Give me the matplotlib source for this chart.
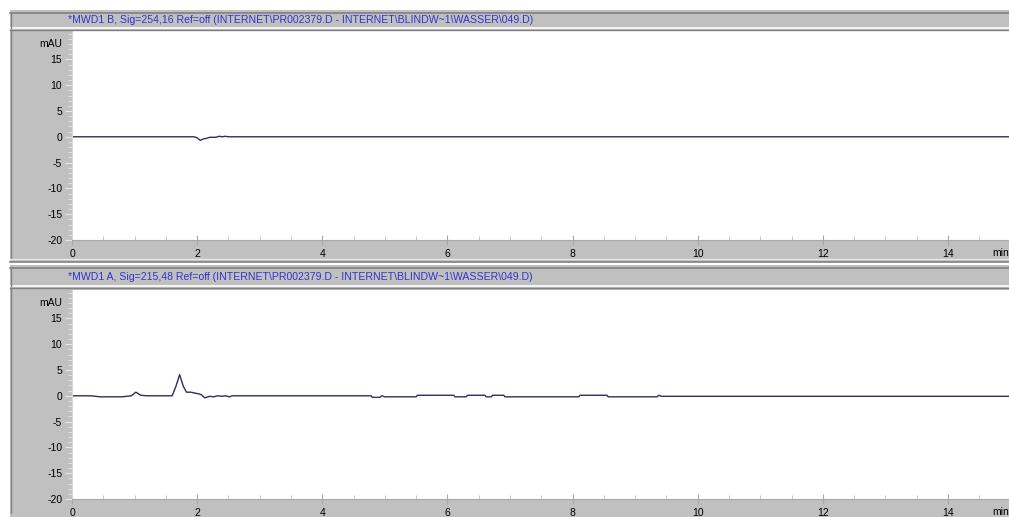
import numpy as np
import matplotlib.pyplot as plt
from matplotlib.patches import Rectangle
from matplotlib.lines import Line2D

plt.rcParams['font.family'] = ['Liberation Sans', 'DejaVu Sans']

# signal B (254 nm) - time in min, absorbance in mAU
t_b = [0.0, 1.95, 2.0, 2.05, 2.1, 2.15, 2.2, 2.3, 2.35, 2.4, 2.45, 2.5, 15.5]
y_b = [0.0, 0.0, -0.2, -0.7, -0.4, -0.3, -0.1, -0.1, 0.1, 0.0, 0.1, 0.0, 0.0]

# signal A (215 nm)
t_a = [0.0, 0.3, 0.45, 0.8, 0.95, 1.02, 1.1, 1.2, 1.6, 1.66, 1.72, 1.78, 1.83, 1.9, 1.97,
       2.02, 2.07, 2.12, 2.2, 2.27, 2.32, 2.4, 2.45, 2.52, 2.56, 4.78, 4.8, 4.92, 4.95,
       5.0, 5.5, 5.52, 6.1, 6.12, 6.3, 6.32, 6.6, 6.62, 6.7, 6.72, 6.9, 6.92, 8.1, 8.12,
       8.55, 8.57, 9.35, 9.38, 9.42, 15.5]
y_a = [0.0, 0.0, -0.2, -0.2, 0.0, 0.7, 0.1, 0.0, 0.0, 1.8, 4.1, 1.8, 0.7, 0.7, 0.5,
       0.4, 0.2, -0.4, -0.1, -0.2, 0.0, -0.1, 0.0, -0.2, 0.0, 0.0, -0.3, -0.3, 0.0,
       -0.2, -0.2, 0.1, 0.1, -0.2, -0.2, 0.1, 0.1, -0.2, -0.2, 0.1, 0.1, -0.2, -0.2, 0.1,
       0.1, -0.2, -0.2, 0.1, -0.1, -0.1]

titles = ["*MWD1 B, Sig=254,16 Ref=off (INTERNET\\PR002379.D - INTERNET\\BLINDW~1\\WASSER\\049.D)",
          "*MWD1 A, Sig=215,48 Ref=off (INTERNET\\PR002379.D - INTERNET\\BLINDW~1\\WASSER\\049.D)"]

W, H = 1009, 517
fig = plt.figure(figsize=(W / 100, H / 100), dpi=100)
fig.patch.set_facecolor('white')

gray = '#c0c0c0'
dark = '#808080'
blue = '#3333cc'
trace = '#2e2e60'

def fx(px):
    return px / W

def fy(py):
    return 1 - py / H

# panels: (panel top, header top, header bottom, plot top, plot bottom, panel bottom)
panels = [(10, 13, 28, 31, 240, 262), (265, 268, 286, 290, 499, 517)]
data = [(t_b, y_b), (t_a, y_a)]

for i, (ptop, htop, hbot, atop, abot, pbot) in enumerate(panels):
    fig.add_artist(Rectangle((fx(10), fy(pbot)), fx(W - 10), (pbot - ptop) / H,
                             transform=fig.transFigure, facecolor=gray, edgecolor='none', zorder=0))
    # header strip
    fig.add_artist(Line2D([fx(10), 1], [fy(htop), fy(htop)], color=dark, lw=1.2, transform=fig.transFigure))
    fig.add_artist(Line2D([fx(10), 1], [fy(hbot), fy(hbot)], color='white', lw=1.2, transform=fig.transFigure))
    fig.add_artist(Line2D([fx(11), fx(11)], [fy(htop), fy(hbot)], color=dark, lw=1, transform=fig.transFigure))
    fig.add_artist(Line2D([fx(10), 1], [fy(hbot + 2), fy(hbot + 2)], color=dark, lw=1, transform=fig.transFigure))
    fig.add_artist(Line2D([fx(11), fx(11)], [fy(hbot + 2), fy(pbot - 4)], color=dark, lw=1, transform=fig.transFigure))
    fig.text(fx(68), fy((htop + hbot) / 2), titles[i], color=blue, fontsize=7.6,
             va='center', ha='left')
    if i == 0:
        fig.add_artist(Line2D([fx(10), 1], [fy(pbot - 3), fy(pbot - 3)], color='#e6e6e6', lw=1, transform=fig.transFigure))
        fig.add_artist(Line2D([fx(10), 1], [fy(pbot), fy(pbot)], color=dark, lw=1.2, transform=fig.transFigure))

    x0 = 72
    ppm = (948 - 72) / 14.0
    xmax = 15.5
    ax = fig.add_axes([fx(x0), fy(abot), xmax * ppm / W, (abot - atop) / H])
    ax.set_facecolor('white')
    t, y = data[i]
    ax.plot(t, y, color=trace, lw=1.0)
    ax.set_xlim(0, xmax)
    ax.set_ylim(-20, 20.5)
    for s in ['top', 'right']:
        ax.spines[s].set_visible(False)
    ax.spines['left'].set_color('#d8d8d8')
    ax.spines['bottom'].set_color('#a8a8a8')
    ax.set_yticks([-20, -15, -10, -5, 0, 5, 10, 15])
    ax.set_yticklabels(['-20', '-15', '-10', '-5', '0', '5', '10', '15'])
    ax.set_yticks(np.arange(-20, 21, 1), minor=True)
    ax.set_xticks(np.arange(0, 15, 2))
    ax.set_xticks(np.arange(0, 15.01, 0.5), minor=True)
    ax.tick_params(axis='y', which='major', direction='out', length=5, color='#e8e8e8',
                   labelsize=7.5, pad=2)
    ax.tick_params(axis='y', which='minor', direction='out', length=3, color='#e8e8e8')
    ax.tick_params(axis='x', which='major', direction='inout', length=7, color='#a8a8a8',
                   labelsize=7.5, pad=3)
    ax.tick_params(axis='x', which='minor', direction='in', length=3, color='#bcbcbc')
    ax.text(-0.15, 18.0, 'mAU', ha='right', va='center', fontsize=7.5)
    ax.text(14.7, -21.5, 'min', ha='left', va='top', fontsize=7.5)

fig.savefig('out.png', dpi=100, facecolor=fig.get_facecolor())
